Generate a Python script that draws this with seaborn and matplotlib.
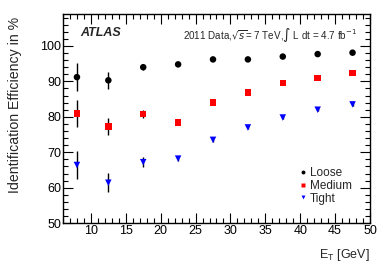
import numpy as np
import pandas as pd
import matplotlib
matplotlib.use("Agg")
import matplotlib.pyplot as plt
from matplotlib.ticker import MultipleLocator
import seaborn as sns

# ET bin centres [GeV]
et_bins = [8.0, 12.5, 17.5, 22.5, 27.5, 32.5, 37.5, 42.5, 47.5]

loose = [91.2, 90.3, 94.0, 94.8, 96.2, 96.2, 97.0, 97.7, 98.1]
loose_err = [4.0, 2.4, 0.8, 0.5, 0.4, 0.3, 0.3, 0.3, 0.3]

medium = [80.9, 77.3, 80.8, 78.4, 84.0, 86.8, 89.5, 91.0, 92.3]
medium_err = [3.8, 2.3, 1.2, 0.6, 0.5, 0.4, 0.4, 0.4, 0.4]

tight = [66.4, 61.4, 67.2, 68.2, 73.5, 77.0, 79.8, 82.0, 83.5]
tight_err = [4.0, 2.7, 1.5, 0.6, 0.5, 0.4, 0.4, 0.4, 0.4]

labels = ["Loose", "Medium", "Tight"]
colors = ["black", "red", "blue"]
markers = ["o", "s", "v"]

rows = []
for lab, vals, errs in zip(labels, [loose, medium, tight], [loose_err, medium_err, tight_err]):
    for x, v, e in zip(et_bins, vals, errs):
        rows.append({"et": x, "eff": v, "err": e, "menu": lab})
df = pd.DataFrame(rows)

sns.set_style("ticks")
plt.rcParams["font.family"] = ["Liberation Sans", "DejaVu Sans"]

fig = plt.figure(figsize=(3.9, 2.65), dpi=100)
ax = fig.add_axes([0.1615, 0.158, 0.7872, 0.789])

# error bars first, then markers on top
for lab in labels:
    sub = df[df["menu"] == lab]
    ax.errorbar(sub["et"], sub["eff"], yerr=sub["err"], fmt="none",
                ecolor="black", elinewidth=1.0, capsize=0, zorder=2)

sns.scatterplot(data=df, x="et", y="eff", hue="menu", style="menu",
                hue_order=labels, style_order=labels,
                palette=colors, markers=markers, s=22, edgecolor="none",
                ax=ax, zorder=3)

ax.set_xlim(6, 50)
ax.set_ylim(50, 109)
ax.xaxis.set_major_locator(MultipleLocator(5))
ax.xaxis.set_minor_locator(MultipleLocator(1))
ax.yaxis.set_major_locator(MultipleLocator(10))
ax.yaxis.set_minor_locator(MultipleLocator(2))
ax.tick_params(which="both", direction="in", top=True, right=True,
               labelsize=9, colors="black", width=0.8, pad=1.5)
ax.tick_params(which="major", length=7)
ax.tick_params(which="minor", length=3.5)
ax.set_xticks([10, 15, 20, 25, 30, 35, 40, 45, 50])
ax.set_yticks([50, 60, 70, 80, 90, 100])
for sp in ax.spines.values():
    sp.set_linewidth(1.0)
    sp.set_color("black")

ax.set_xlabel("E$_\\mathregular{T}$ [GeV]", fontsize=9, loc="right")
ax.xaxis.set_label_coords(1.0, -0.115)
ax.set_ylabel("Identification Efficiency in %", fontsize=10.2, loc="top")
ax.yaxis.set_label_coords(-0.135, 0.985)

ax.text(0.055, 0.909, "ATLAS", transform=ax.transAxes, fontsize=9,
        fontweight="bold", fontstyle="italic", va="center")
ax.text(0.958, 0.90, "2011 Data,$\\sqrt{s}$= 7 TeV,$\\int$ L dt = 4.7 fb$^{-1}$",
        transform=ax.transAxes, fontsize=7.1, ha="right", va="center")

leg = ax.legend(title=None, loc="center left", bbox_to_anchor=(0.762, 0.178),
                frameon=False, fontsize=8.5, handletextpad=0.1,
                labelspacing=0.05, borderaxespad=0, borderpad=0,
                handlelength=1.0, markerscale=0.6)

fig.savefig("out.png", dpi=100)
